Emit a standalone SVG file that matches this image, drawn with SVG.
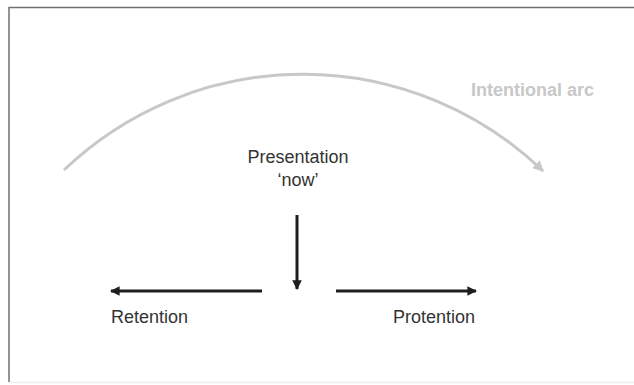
<svg xmlns="http://www.w3.org/2000/svg" width="634" height="385" viewBox="0 0 634 385">
  <defs>
    <style>
      .lbl { font-family: "Liberation Sans", Arial, sans-serif; font-size: 18px; fill: #333333; }
      .arc-lbl { font-family: "Liberation Sans", Arial, sans-serif; font-size: 18px; font-weight: bold; fill: #c8c8c8; }
      .blk { stroke: #1e1e1e; stroke-width: 3; fill: none; }
      .gry { stroke: #c8c8c8; stroke-width: 3; fill: none; }
    </style>
    <marker id="ahBlack" viewBox="0 0 10 10" refX="9" refY="5" markerWidth="3.6" markerHeight="3.2" orient="auto" markerUnits="strokeWidth">
      <path d="M0,0 L10,5 L0,10 Z" fill="#1e1e1e"/>
    </marker>
    <marker id="ahGray" viewBox="0 0 10 10" refX="9" refY="5" markerWidth="4" markerHeight="3.6" orient="auto" markerUnits="strokeWidth">
      <path d="M0,0 L10,5 L0,10 Z" fill="#c8c8c8"/>
    </marker>
  </defs>
  <rect x="0" y="0" width="634" height="385" fill="#ffffff"/>
  <g id="frame">
    <path d="M9,382 L9,7.5 L634,7.5" fill="none" stroke="#707070" stroke-width="1.5"/>
    <path d="M9,382.5 L634,382.5" fill="none" stroke="#ececec" stroke-width="1.5"/>
  </g>
  <g id="connectors">
    <path id="intentional-arc" class="gry" d="M64,170 A346,346 0 0 1 543,171" marker-end="url(#ahGray)"/>
    <line id="now-arrow" class="blk" x1="297" y1="215" x2="297" y2="289" marker-end="url(#ahBlack)"/>
    <line id="retention-arrow" class="blk" x1="262" y1="291" x2="111" y2="291" marker-end="url(#ahBlack)"/>
    <line id="protention-arrow" class="blk" x1="336" y1="291" x2="476" y2="291" marker-end="url(#ahBlack)"/>
  </g>
  <g id="node-arc-label">
    <text class="arc-lbl" x="471" y="96">Intentional arc</text>
  </g>
  <g id="node-presentation">
    <text class="lbl" x="298" y="163" text-anchor="middle">Presentation</text>
    <text class="lbl" x="298" y="186" text-anchor="middle">‘now’</text>
  </g>
  <g id="node-retention">
    <text class="lbl" x="111" y="323">Retention</text>
  </g>
  <g id="node-protention">
    <text class="lbl" x="393" y="323">Protention</text>
  </g>
</svg>
